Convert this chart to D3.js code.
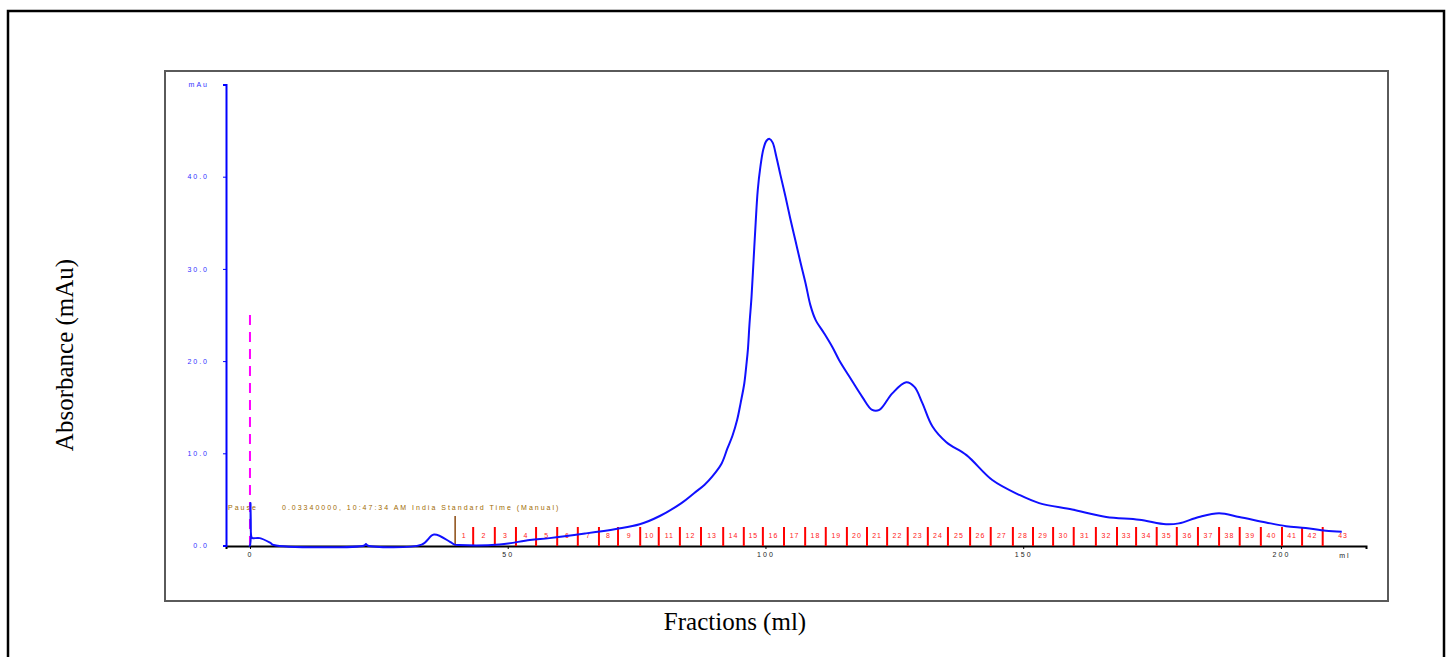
<!DOCTYPE html>
<html lang="en">
<head>
  <meta charset="UTF-8">
  <title>Absorbance vs Fractions</title>
  <style>
    body { margin: 0; background: #fff; }
    svg { display: block; }
    .tiny { font-family: "Liberation Sans", Arial, sans-serif; font-size: 7px; letter-spacing: 2px; }
    .title { font-family: "Liberation Serif", "Times New Roman", serif; font-size: 25px; fill: #000; }
  </style>
</head>
<body>
  <svg width="1449" height="657"></svg>
  <script src="https://d3js.org/d3.v7.min.js"></script>
  <script>
  // elution volume (ml) and absorbance (mAu)
  const volume = [-0.2, 0, 0.1, 0.3, 0.5, 1.9, 3.9, 4.6, 22.2, 22.5, 22.8, 33.3, 35.7, 38.8, 39.7, 40.5,
    48.4, 54.3, 58.1, 65.0, 71.0, 75.6, 79.5, 83.7, 86.2, 88.2, 89.7, 91.5, 92.6, 93.6, 94.5, 95.2,
    95.9, 96.3, 96.6, 96.9, 97.3, 97.7, 98.1, 98.5, 99.0, 99.6, 100.2, 100.8, 101.4, 102.1, 102.9,
    103.9, 104.8, 105.8, 106.8, 107.8, 108.7, 109.7, 111.4, 113.0, 114.3, 116.3, 118.8, 120.7, 122.1,
    124.6, 127.3, 128.9, 130.4, 132.4, 135.1, 139.0, 144.0, 149.2, 153.1, 159.5, 166.1, 172.5, 177.7,
    180.2, 184.1, 188.0, 191.9, 197.1, 201.0, 204.8, 208.7, 211.8];
  const absorbance = [0, 0, 4.6, 0.9, 0.8, 0.8, 0.3, 0.05, 0, 0.15, 0, 0.1, 1.2, 0.4, 0.1, 0.05,
    0.1, 0.6, 0.8, 1.3, 1.8, 2.3, 3.2, 4.6, 5.7, 6.6, 7.5, 8.9, 10.5, 11.9, 13.6, 15.5,
    17.6, 19.6, 21.3, 24.0, 27.0, 31.0, 35.0, 38.5, 41.0, 43.0, 43.9, 44.1, 43.7, 42.2, 40.2,
    37.8, 35.5, 33.1, 30.7, 28.4, 26.1, 24.5, 23.0, 21.5, 20.1, 18.3, 16.1, 14.7, 14.7,
    16.5, 17.7, 17.2, 15.5, 12.9, 11.2, 9.8, 7.1, 5.5, 4.6, 3.9, 3.1, 2.8, 2.3,
    2.4, 3.1, 3.5, 3.1, 2.5, 2.1, 1.9, 1.6, 1.5];

  // fraction boundaries (ml): start of fraction 1 .. end of fraction 43
  const fractionEdges = [39.8, 43.3, 47.5, 51.6, 55.5, 59.6, 63.6, 67.7, 71.4, 75.7, 79.3, 83.4,
    87.5, 91.8, 95.8, 99.5, 103.6, 107.7, 111.7, 115.8, 119.7, 123.6, 127.6, 131.5, 135.4, 139.7,
    143.7, 148.0, 151.9, 155.8, 159.8, 164.1, 168.2, 171.9, 175.9, 179.8, 183.9, 188.0, 192.0,
    196.1, 200.2, 204.1, 208.1, 216.0];
  const fractionLabels = d3.range(1, 44).map(String);

  const xTicks = [0, 50, 100, 150, 200];
  const yTicks = [0, 10, 20, 30, 40, 50];

  const pauseLabel = "Pause";
  const pauseText = "0.03340000, 10:47:34 AM India Standard Time (Manual)";
  const injectMark = 0;

  const svg = d3.select("svg");

  // outer frame and plot box
  svg.append("rect").attr("x", 8).attr("y", 11).attr("width", 1436).attr("height", 660)
    .attr("fill", "none").attr("stroke", "#000").attr("stroke-width", 2.5);
  svg.append("rect").attr("x", 165).attr("y", 71).attr("width", 1223).attr("height", 530)
    .attr("fill", "#fff").attr("stroke", "#5a5a5a").attr("stroke-width", 2);

  const x = d3.scaleLinear().domain([-4.65, 216.5]).range([226, 1366]);
  const y = d3.scaleLinear().domain([0, 50]).range([545.5, 84.5]);

  // x axis
  const xAxis = svg.append("g").attr("transform", "translate(0,546)")
    .call(d3.axisBottom(x).tickValues(xTicks).tickSize(3).tickPadding(3).tickFormat(d3.format("d")));
  xAxis.select(".domain").attr("stroke", "#000").attr("stroke-width", 2);
  xAxis.selectAll(".tick line").attr("stroke", "#000");
  xAxis.selectAll(".tick text").attr("class", "tiny").attr("fill", "#222");
  svg.append("text").attr("class", "tiny").attr("x", x(212.4)).attr("y", 558)
    .attr("text-anchor", "middle").attr("fill", "#222").text("ml");

  // y axis
  const yAxis = svg.append("g").attr("transform", "translate(226,0)")
    .call(d3.axisLeft(y).tickValues(yTicks).tickSize(3).tickPadding(14)
      .tickFormat(d => d === 50 ? "mAu" : d3.format(".1f")(d)));
  yAxis.select(".domain").attr("stroke", "#0000ff").attr("stroke-width", 2);
  yAxis.selectAll(".tick line").attr("stroke", "#0000ff");
  yAxis.selectAll(".tick text").attr("class", "tiny").attr("fill", "#3030ff");

  // injection marker
  svg.append("line").attr("x1", x(injectMark)).attr("x2", x(injectMark))
    .attr("y1", y(25)).attr("y2", y(0))
    .attr("stroke", "#ff00ff").attr("stroke-width", 2).attr("stroke-dasharray", "10,7");

  // pause annotation
  svg.append("text").attr("class", "tiny").attr("x", 228).attr("y", 510)
    .attr("fill", "#a06a00").text(pauseLabel);
  svg.append("text").attr("class", "tiny").attr("x", 282).attr("y", 510)
    .attr("fill", "#a06a00").text(pauseText);

  // fractions
  const frac = svg.append("g");
  frac.selectAll("line")
    .data(fractionEdges.slice(0, -1))
    .join("line")
    .attr("x1", d => x(d)).attr("x2", d => x(d))
    .attr("y1", (d, i) => i === 0 ? 516 : 527).attr("y2", 546)
    .attr("stroke", (d, i) => i === 0 ? "#8b4a10" : "#ff0000")
    .attr("stroke-width", (d, i) => i === 0 ? 1.5 : 2);
  frac.selectAll("text")
    .data(fractionLabels)
    .join("text")
    .attr("class", "tiny")
    .attr("x", (d, i) => x((fractionEdges[i] + fractionEdges[i + 1]) / 2))
    .attr("y", 538)
    .attr("text-anchor", "middle")
    .attr("fill", "#ff2020")
    .style("letter-spacing", "1px")
    .text(d => d);

  // absorbance trace
  const trace = volume.map((v, i) => [v, absorbance[i]]);
  svg.append("path")
    .datum(trace)
    .attr("fill", "none")
    .attr("stroke", "#1010ff")
    .attr("stroke-width", 2)
    .attr("d", d3.line().x(d => x(d[0])).y(d => y(d[1])).curve(d3.curveCatmullRom.alpha(0.5)));

  // axis titles
  svg.append("text").attr("class", "title")
    .attr("transform", "translate(73,355) rotate(-90)")
    .attr("text-anchor", "middle").text("Absorbance (mAu)");
  svg.append("text").attr("class", "title")
    .attr("x", 735).attr("y", 630)
    .attr("text-anchor", "middle").text("Fractions (ml)");
  </script>
</body>
</html>
